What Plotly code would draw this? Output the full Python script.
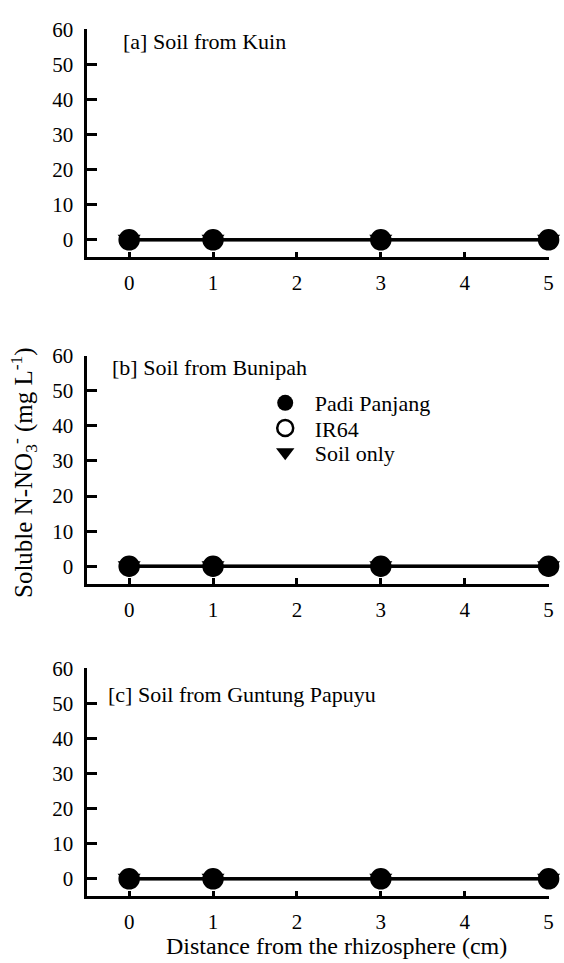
import plotly.graph_objects as go

distance = [0, 1, 3, 5]
padi_panjang = {
    "a": [0, 0, 0, 0],
    "b": [0, 0, 0, 0],
    "c": [0, 0, 0, 0],
}
ir64 = {
    "a": [0, 0, 0, 0],
    "b": [0, 0, 0, 0],
    "c": [0, 0, 0, 0],
}
soil_only = {
    "a": [0, 0, 0, 0],
    "b": [0, 0, 0, 0],
    "c": [0, 0, 0, 0],
}
panel_titles = {
    "a": "[a] Soil from Kuin",
    "b": "[b] Soil from Bunipah",
    "c": "[c] Soil from Guntung Papuyu",
}
x_ticks = [0, 1, 2, 3, 4, 5]
y_ticks = [0, 10, 20, 30, 40, 50, 60]

W, H = 564, 963
FONT = "Liberation Serif"

# pixel layout (top, bottom) of each panel
panels = [("a", 17.7, 248.4), ("b", 348, 579), ("c", 664.5, 895.5)]
x_left, x_right = 88, 553.5
title_pos = {"a": (122, 30), "b": (111, 360), "c": (107, 691)}

fig = go.Figure()


def legend_box(ypix):
    return dict(
        x=258 / W, y=1 - ypix / H, xanchor="left", yanchor="middle",
        bgcolor="rgba(0,0,0,0)", borderwidth=0,
        font=dict(family=FONT, size=22, color="black"), itemwidth=49,
    )


layout = dict(
    width=W, height=H, margin=dict(l=0, r=0, t=0, b=0),
    paper_bgcolor="white", plot_bgcolor="white",
    font=dict(family=FONT, color="black", size=21),
    showlegend=True,
    legend=legend_box(396),
    legend2=legend_box(421.5),
    legend3=legend_box(446),
)
annotations = []

for i, (key, top, bottom) in enumerate(panels):
    sfx = "" if i == 0 else str(i + 1)
    xa, ya = "x" + sfx, "y" + sfx
    layout["xaxis" + sfx] = dict(
        domain=[x_left / W, x_right / W], range=[-0.5, 5], anchor=ya,
        tickvals=x_ticks, ticks="inside", ticklen=6, tickwidth=2.5, tickcolor="black",
        showline=True, linewidth=2.5, linecolor="black", showgrid=False, zeroline=False,
        tickfont=dict(family=FONT, size=21, color="black"), ticklabelstandoff=5,
    )
    layout["yaxis" + sfx] = dict(
        domain=[1 - bottom / H, 1 - top / H], range=[-5, 60], anchor=xa,
        tickvals=y_ticks, ticks="inside", ticklen=10, tickwidth=2.5, tickcolor="black",
        showline=True, linewidth=2.5, linecolor="black", showgrid=False, zeroline=False,
        tickfont=dict(family=FONT, size=21, color="black"), ticklabelstandoff=7,
    )
    # connecting lines
    for series in (padi_panjang, ir64, soil_only):
        fig.add_trace(go.Scatter(
            x=distance, y=series[key], mode="lines", xaxis=xa, yaxis=ya,
            line=dict(color="black", width=3), showlegend=False, hoverinfo="skip",
        ))
    # markers (open circle, triangle, then filled circle on top)
    fig.add_trace(go.Scatter(
        x=distance, y=ir64[key], mode="markers", xaxis=xa, yaxis=ya, name="IR64",
        marker=dict(symbol="circle-open", size=19, color="black", line=dict(width=2.5, color="black")),
        showlegend=(i == 0), legend="legend2", cliponaxis=False,
    ))
    fig.add_trace(go.Scatter(
        x=distance, y=soil_only[key], mode="markers", xaxis=xa, yaxis=ya, name="Soil only",
        marker=dict(symbol="triangle-down", size=20, color="black", line=dict(width=0)),
        showlegend=(i == 0), legend="legend3", cliponaxis=False,
    ))
    fig.add_trace(go.Scatter(
        x=distance, y=padi_panjang[key], mode="markers", xaxis=xa, yaxis=ya, name="Padi Panjang",
        marker=dict(symbol="circle", size=20, color="black", line=dict(width=0)),
        showlegend=(i == 0), legend="legend", cliponaxis=False,
    ))
    tx, ty = title_pos[key]
    annotations.append(dict(
        text=panel_titles[key], x=tx / W, y=1 - ty / H, xref="paper", yref="paper",
        xanchor="left", yanchor="middle", showarrow=False,
        font=dict(family=FONT, size=22, color="black"),
    ))

annotations.append(dict(
    text="Soluble N-NO<sub>3</sub><sup>-</sup> (mg L<sup>-1</sup>)",
    x=24 / W, y=1 - 466 / H, xref="paper", yref="paper", textangle=-90,
    xanchor="center", yanchor="middle", showarrow=False,
    font=dict(family=FONT, size=25, color="black"),
))
annotations.append(dict(
    text="Distance from the rhizosphere (cm)",
    x=339.5 / W, y=1 - 946 / H, xref="paper", yref="paper",
    xanchor="center", yanchor="middle", showarrow=False,
    font=dict(family=FONT, size=24, color="black"),
))
layout["annotations"] = annotations
fig.update_layout(**layout)
fig.write_html("out.html")
